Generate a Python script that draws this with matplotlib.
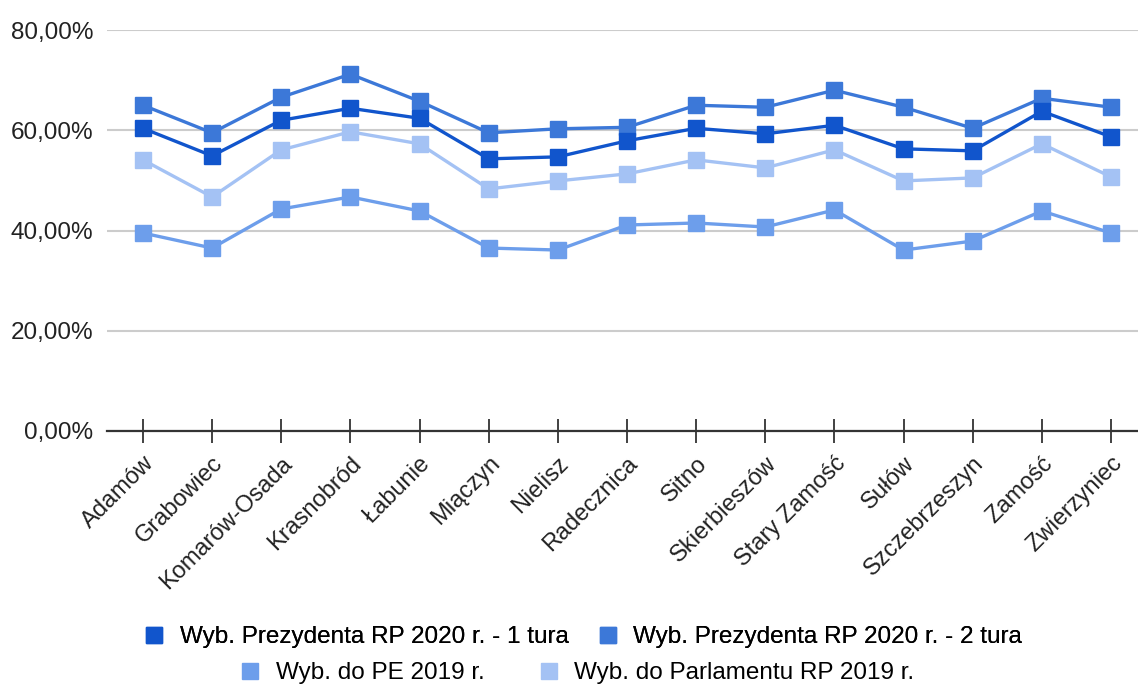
import matplotlib.pyplot as plt
from matplotlib.lines import Line2D
from matplotlib.ticker import FuncFormatter

plt.rcParams['font.family'] = ['Liberation Sans', 'DejaVu Sans']

gminy = ["Adamów", "Grabowiec", "Komarów-Osada", "Krasnobród", "Łabunie", "Miączyn",
         "Nielisz", "Radecznica", "Sitno", "Skierbieszów", "Stary Zamość", "Sułów",
         "Szczebrzeszyn", "Zamość", "Zwierzyniec"]

prez_2020_1 = [60.4, 54.9, 62.0, 64.4, 62.4, 54.3, 54.7, 57.9, 60.4, 59.3, 61.0, 56.3, 55.9, 63.8, 58.7]
prez_2020_2 = [65.0, 59.5, 66.6, 71.2, 65.8, 59.5, 60.3, 60.6, 65.0, 64.6, 68.0, 64.6, 60.4, 66.4, 64.6]
pe_2019 = [39.5, 36.5, 44.3, 46.7, 43.9, 36.5, 36.1, 41.1, 41.5, 40.7, 44.1, 36.1, 37.9, 43.9, 39.5]
sejm_2019 = [54.1, 46.7, 56.1, 59.7, 57.3, 48.3, 49.9, 51.3, 54.1, 52.5, 56.1, 49.9, 50.5, 57.3, 50.7]

series = [
    ("Wyb. Prezydenta RP 2020 r. - 1 tura", prez_2020_1, "#1155cc"),
    ("Wyb. Prezydenta RP 2020 r. - 2 tura", prez_2020_2, "#3c78d8"),
    ("Wyb. do PE 2019 r.", pe_2019, "#6d9eeb"),
    ("Wyb. do Parlamentu RP 2019 r.", sejm_2019, "#a4c2f4"),
]

fig = plt.figure(figsize=(11.38, 6.84), dpi=100)
ax = fig.add_axes([0.094, 0.370, 0.906, 0.586])

x = list(range(len(gminy)))
for label, values, color in series[::-1]:
    ax.plot(x, [v / 100 for v in values], color=color, linewidth=2.4,
            marker='s', markersize=11, label=label)

ax.set_ylim(0, 0.8)
ax.set_xlim(-0.52, 14.39)
ax.set_yticks([0, 0.2, 0.4, 0.6, 0.8])
ax.yaxis.set_major_formatter(FuncFormatter(lambda v, p: f"{v * 100:.2f}%".replace(".", ",")))
ax.grid(axis='y', color='#cccccc', linewidth=1.5)
ax.set_axisbelow(True)
for s in ['top', 'right', 'left']:
    ax.spines[s].set_visible(False)
ax.spines['bottom'].set_color('#333333')
ax.spines['bottom'].set_linewidth(1.6)
ax.spines['bottom'].set_zorder(5)

ax.tick_params(axis='y', length=0, pad=10, labelsize=17.5, labelcolor='#222222')
ax.tick_params(axis='x', direction='inout', length=17, width=1.3, color='#333333',
               labelsize=17, labelcolor='#222222', pad=7)
ax.set_xticks(x)
ax.set_xticklabels(gminy, rotation=45, ha='right', rotation_mode='anchor')

def handle(color):
    return Line2D([], [], color=color, marker='s', linestyle='none', markersize=12)

row1 = fig.legend([handle(c) for _, _, c in series[:2]], [l for l, _, _ in series[:2]],
                  loc='center', bbox_to_anchor=(0.512, 0.068), ncol=2, frameon=False,
                  fontsize=17.5, handletextpad=0.6, columnspacing=1.15, handlelength=0.9)
fig.add_artist(row1)
fig.legend([handle(c) for _, _, c in series[2:]], [l for l, _, _ in series[2:]],
           loc='center', bbox_to_anchor=(0.507, 0.016), ncol=2, frameon=False,
           fontsize=17.5, handletextpad=0.6, columnspacing=2.2, handlelength=0.9)

fig.savefig("out.png", dpi=100)
